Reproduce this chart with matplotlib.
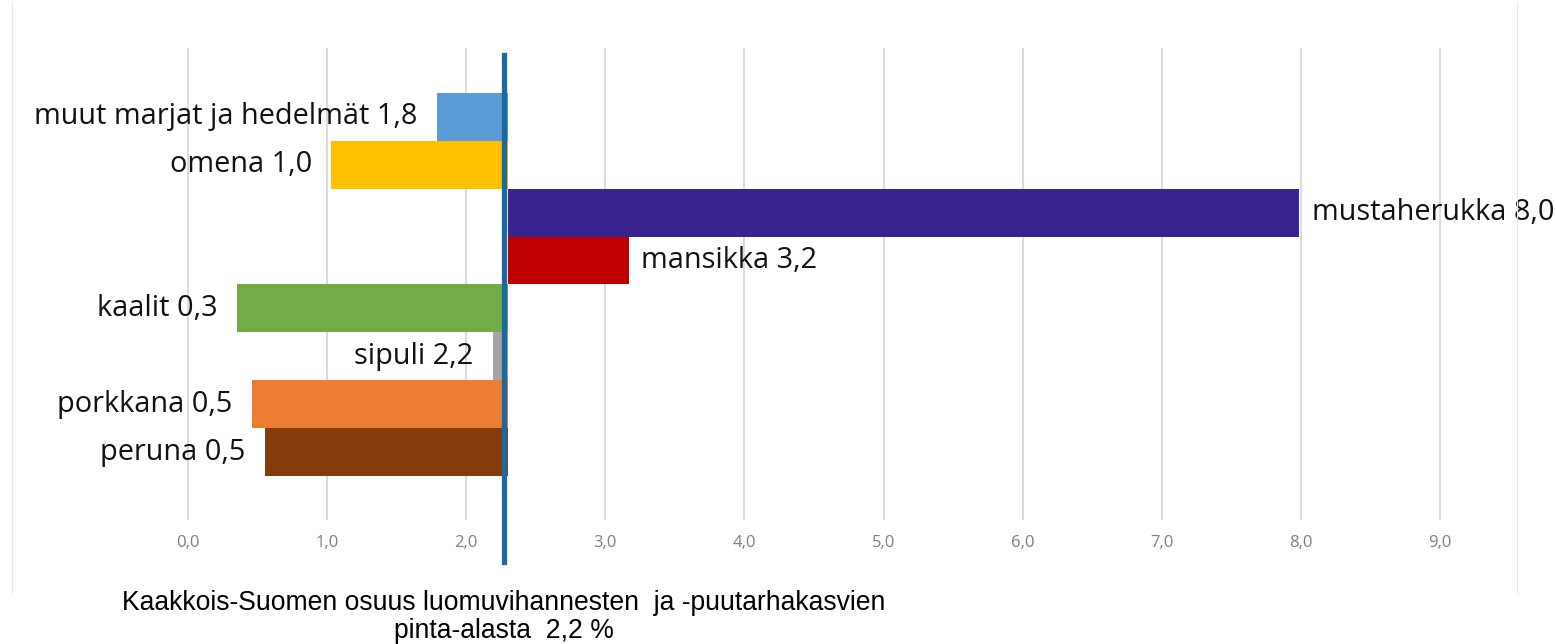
import matplotlib
matplotlib.use("Agg")
import matplotlib.pyplot as plt
from matplotlib.lines import Line2D

# ---- data ----
categories = ["muut marjat ja hedelmät", "omena", "mustaherukka", "mansikka",
              "kaalit", "sipuli", "porkkana", "peruna"]
label_values = ["1,8", "1,0", "8,0", "3,2", "0,3", "2,2", "0,5", "0,5"]
bar_values = [1.79, 1.03, 7.99, 3.17, 0.35, 2.19, 0.46, 0.55]
baseline = 2.3
reference_share = 2.27
colors = ["#5b9bd5", "#ffc000", "#3a228f", "#c00000",
          "#70ad47", "#a5a5a5", "#ed7d31", "#843c0c"]
xticks = [0, 1, 2, 3, 4, 5, 6, 7, 8, 9]
xtick_labels = ["0,0", "1,0", "2,0", "3,0", "4,0", "5,0", "6,0", "7,0", "8,0", "9,0"]
caption = "Kaakkois-Suomen osuus luomuvihannesten  ja -puutarhakasvien\npinta-alasta  2,2 %"

W, H = 1556, 644
fig = plt.figure(figsize=(W / 100, H / 100), dpi=100)
ax = fig.add_axes([12 / W, (H - 520) / H, (1517 - 12) / W, (520 - 48) / H])

ypos = list(range(len(categories)))
widths = [v - baseline for v in bar_values]
ax.barh(ypos, widths, left=baseline, height=1.0, color=colors, zorder=2)

for y, cat, lab, v in zip(ypos, categories, label_values, bar_values):
    txt = f"{cat} {lab}"
    if v < baseline:
        ax.annotate(txt, (v, y), xytext=(-14, 0), textcoords="offset points",
                    ha="right", va="center", fontsize=20.8, family="Open Sans",
                    color="#111111")
    else:
        ax.annotate(txt, (v, y), xytext=(9, 0), textcoords="offset points",
                    ha="left", va="center", fontsize=20.8, family="Open Sans",
                    color="#111111")

ax.set_xlim((12 - 188) / 139.1, (1517 - 188) / 139.1)
ax.set_ylim(len(categories) - 1 + 1.42, -1.44)
ax.set_xticks(xticks)
ax.set_xticklabels(xtick_labels, fontsize=12, color="#7f7f7f", family="Open Sans")
ax.set_yticks([])
ax.tick_params(axis="x", length=0, pad=11)
ax.grid(axis="x", color="#d9d9d9", linewidth=1.3, zorder=0)
for s in ax.spines.values():
    s.set_visible(False)

# reference line
ax.axvline(reference_share, ymin=-(562 - 520) / 472, ymax=(520 - 55) / 472,
           color="#1a6aa0", linewidth=3.8, clip_on=False, zorder=4)

# outer frame lines
fig.add_artist(Line2D([12 / W, 12 / W], [(H - 593) / H, (H - 2) / H],
                      color="#e6e6e6", linewidth=0.8))
fig.add_artist(Line2D([1517 / W, 1517 / W], [(H - 593) / H, (H - 2) / H],
                      color="#e6e6e6", linewidth=0.8))

fig.text(504 / W, 1 - 617 / H, caption, ha="center", va="center",
         fontsize=19.1, family="Liberation Sans", color="#000000", linespacing=1.08)

fig.savefig("out.png", dpi=100, facecolor="white")
